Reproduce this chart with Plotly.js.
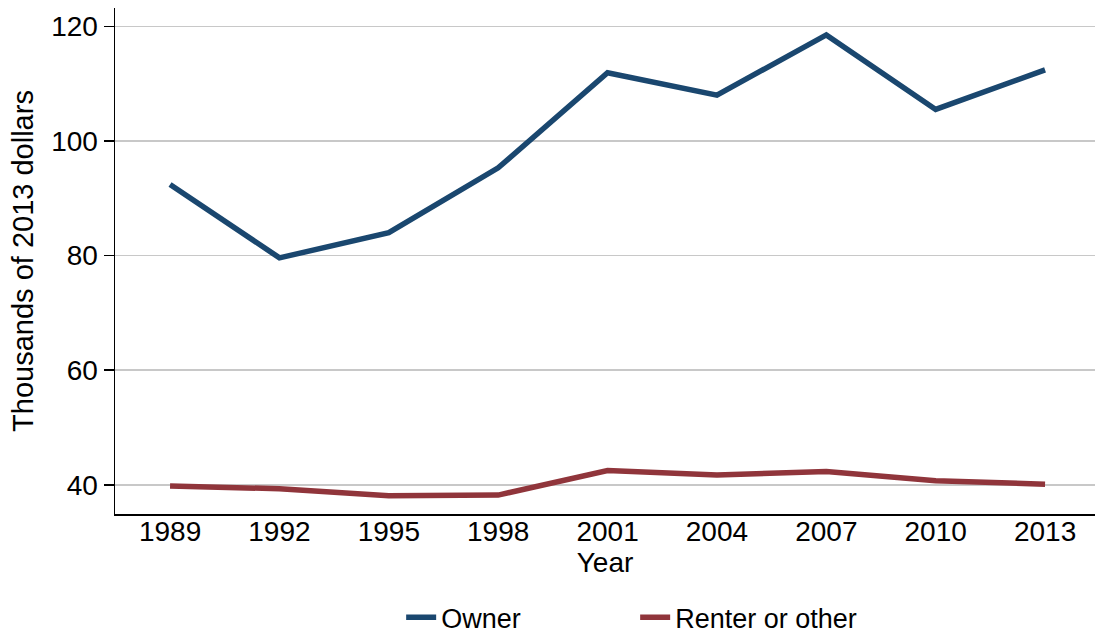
<!DOCTYPE html>
<html>
<head>
<meta charset="utf-8">
<script src="https://cdn.plot.ly/plotly-3.0.1.min.js"></script>
<style>html,body{margin:0;padding:0;background:#fff;}#chart{width:1095px;height:639px;}</style>
</head>
<body>
<div id="chart"></div>
<script>
const years = [1989, 1992, 1995, 1998, 2001, 2004, 2007, 2010, 2013];
const owner = [92.4, 79.6, 84.0, 95.3, 111.9, 108.0, 118.5, 105.5, 112.4];
const renter = [39.8, 39.3, 38.1, 38.2, 42.5, 41.7, 42.3, 40.7, 40.1];
const yTicks = [40, 60, 80, 100, 120];
const seriesNames = ["Owner", "Renter or other"];

const font = "Liberation Sans, Arial, Helvetica, sans-serif";

const traces = [
  {x: years, y: owner, name: seriesNames[0], type: "scatter", mode: "lines",
   line: {color: "#1a476f", width: 5.5}},
  {x: years, y: renter, name: seriesNames[1], type: "scatter", mode: "lines",
   line: {color: "#90353b", width: 5.5}}
];

const layout = {
  width: 1095, height: 639,
  margin: {l: 115, r: 0, t: 8, b: 125, autoexpand: false},
  paper_bgcolor: "#fff", plot_bgcolor: "#fff",
  font: {family: font, size: 28, color: "#000"},
  showlegend: true,
  legend: {orientation: "h", x: 0.292, xanchor: "left", y: -0.205, yanchor: "middle",
           font: {family: font, size: 27}, entrywidth: 189, entrywidthmode: "pixels",
           tracegroupgap: 0},
  xaxis: {
    range: [1987.49, 2014.37],
    tickvals: years, ticktext: years.map(String),
    showgrid: false, zeroline: false, automargin: false,
    showline: true, linecolor: "#000", linewidth: 1.5,
    ticks: "", ticklabelstandoff: -8, tickfont: {family: font, size: 28},
    title: {text: "Year", font: {family: font, size: 28}, standoff: 0}
  },
  yaxis: {
    range: [34.9, 123.2],
    tickvals: yTicks, automargin: false,
    showgrid: true, gridcolor: "#c8c8c8", gridwidth: 1.5,
    zeroline: false,
    showline: true, linecolor: "#000", linewidth: 1.5,
    ticks: "outside", ticklen: 10, tickwidth: 1.5, tickcolor: "#000",
    tickfont: {family: font, size: 28},
    title: {text: "Thousands of 2013 dollars", font: {family: font, size: 29}, standoff: 9}
  }
};

Plotly.newPlot("chart", traces, layout, {displayModeBar: false, staticPlot: true});
</script>
</body>
</html>
